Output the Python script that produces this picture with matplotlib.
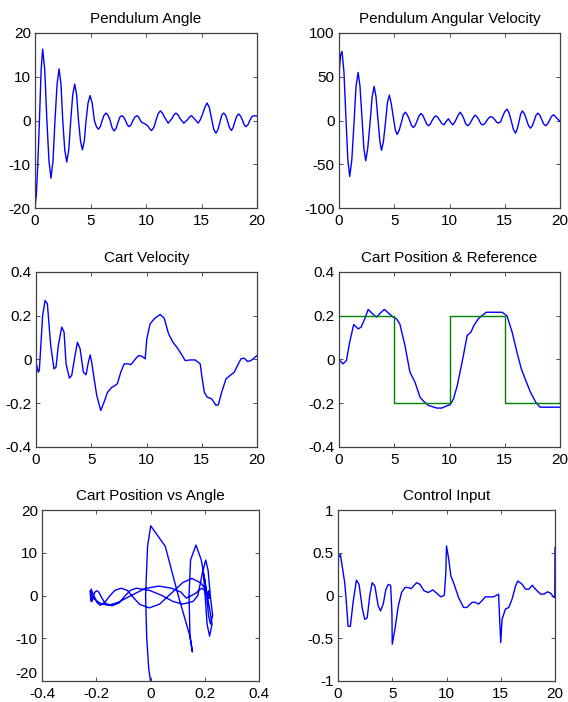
import numpy as np
import matplotlib
matplotlib.use('Agg')
import matplotlib.pyplot as plt

plt.rcParams['font.family'] = ['Liberation Sans', 'DejaVu Sans']

# Pendulum angle (deg), (time, value)
ang_pts = [(0, -20), (0.12, -17), (0.25, -10), (0.4, 0), (0.55, 11.5), (0.69, 16.3),
           (0.88, 11.5), (1.07, 0), (1.26, -9.3), (1.44, -13.2), (1.62, -9.3), (1.8, 0),
           (1.99, 8.3), (2.17, 11.8), (2.34, 8.3), (2.5, 0), (2.68, -6.7), (2.86, -9.5),
           (3.04, -6.7), (3.22, 0), (3.4, 5.9), (3.58, 8.3), (3.75, 5.9), (3.92, 0),
           (4.1, -4.7), (4.27, -6.7), (4.44, -4.7), (4.6, 0), (4.78, 4.0), (4.96, 5.7),
           (5.15, 4.0), (5.35, 0), (5.53, -1.4), (5.71, -2.0), (5.88, -1.4), (6.05, 0),
           (6.22, 1.2), (6.4, 1.7), (6.58, 1.2), (6.77, 0), (6.95, -1.7), (7.13, -2.4),
           (7.3, -1.8), (7.47, -0.5), (7.65, 0.8), (7.82, 1.1), (7.98, 0.8), (8.15, 0),
           (8.32, -1.0), (8.48, -1.4), (8.65, -1.0), (8.82, 0), (9.0, 0.8), (9.17, 1.1),
           (9.33, 0.8), (9.5, 0), (9.65, -0.5), (9.8, -0.6), (10.15, -1.2), (10.33, -1.9),
           (10.5, -2.3), (10.7, -1.6), (10.9, 0), (11.1, 1.6), (11.3, 2.2), (11.48, 1.7),
           (11.65, 0.8), (12.0, -0.6), (12.35, 0.5), (12.52, 1.3), (12.7, 1.7), (12.88, 1.3),
           (13.05, 0.5), (13.4, -0.6), (13.75, 0.2), (13.92, 0.8), (14.1, 1.1), (14.4, 0.3),
           (14.7, -0.6), (14.9, 0.2), (15.1, 1.5), (15.3, 3.0), (15.5, 4.0), (15.7, 3.0),
           (15.9, 0.5), (16.1, -2.0), (16.3, -2.9), (16.48, -2.1), (16.65, -0.5), (16.82, 1.2),
           (17.0, 1.7), (17.18, 1.2), (17.35, -0.2), (17.52, -1.6), (17.7, -2.3), (17.85, -1.6),
           (18.0, -0.3), (18.18, 1.0), (18.35, 1.5), (18.52, 1.0), (18.7, 0), (18.85, -1.0),
           (19.0, -1.4), (19.18, -1.0), (19.35, 0), (19.52, 0.8), (19.7, 1.1), (20.0, 1.0)]

# Pendulum angular velocity
av_pts = [(0, 35), (0.05, 62), (0.15, 75), (0.27, 79), (0.45, 55), (0.62, 5), (0.8, -45),
          (0.97, -64), (1.16, -45), (1.35, -5), (1.54, 39), (1.73, 55), (1.9, 39), (2.07, 5),
          (2.25, -32), (2.42, -46), (2.6, -32), (2.8, -4), (3.0, 27), (3.18, 39), (3.35, 27),
          (3.52, 2), (3.7, -24), (3.85, -34), (4.02, -24), (4.2, -3), (4.38, 20), (4.55, 29),
          (4.72, 20), (4.9, 5), (5.1, -11), (5.27, -16), (5.45, -11), (5.63, -3), (5.82, 6.5),
          (6.0, 9.5), (6.18, 6.5), (6.37, 1), (6.55, -5.5), (6.73, -8), (6.9, -5.5), (7.08, 0),
          (7.25, 5.5), (7.42, 8), (7.6, 5.5), (7.76, 1), (7.93, -4), (8.1, -6), (8.27, -4),
          (8.43, 0), (8.6, 3.7), (8.76, 5.3), (8.95, 3.5), (9.13, 0), (9.3, -3.5), (9.5, -5),
          (9.7, -1), (9.9, 2), (10.1, -2), (10.3, -5), (10.47, -2), (10.63, 2), (10.8, 6.5),
          (10.97, 9.5), (11.13, 6.5), (11.3, 2), (11.47, -4), (11.64, -6), (11.82, -4),
          (12.0, 0), (12.17, 4), (12.33, 6), (12.5, 4), (12.67, 0.5), (12.83, -3.5), (13.0, -5),
          (13.2, -3.5), (13.38, 0), (13.57, 3.2), (13.76, 4.6), (13.93, 3.2), (14.1, 1),
          (14.27, -2), (14.45, -3), (14.63, -1.5), (14.82, 5), (15.0, 10), (15.2, 13),
          (15.38, 9), (15.58, 0), (15.78, -10), (15.97, -14.5), (16.12, -10), (16.28, -2),
          (16.44, 7.5), (16.6, 11), (16.78, 7.5), (16.97, 1), (17.15, -6), (17.33, -8.8),
          (17.5, -6), (17.67, 0), (17.83, 6), (18.0, 8.4), (18.17, 6), (18.35, 1), (18.52, -4),
          (18.7, -6), (18.87, -4), (19.05, 0), (19.22, 4.5), (19.4, 6.5), (19.55, 5),
          (19.7, 3), (19.85, 1), (20.0, -1)]

# Cart velocity
vel_pts = [(0, -0.01), (0.2, -0.058), (0.3, -0.05), (0.36, 0.0), (0.6, 0.2), (0.82, 0.27),
           (1.03, 0.255), (1.33, 0.064), (1.63, -0.043), (1.81, -0.035), (2.02, 0.064),
           (2.33, 0.148), (2.54, 0.125), (2.72, -0.02), (3.02, -0.085), (3.23, -0.073),
           (3.53, 0.018), (3.75, 0.079), (3.99, 0.049), (4.29, -0.058), (4.53, -0.07),
           (4.74, -0.012), (4.9, 0.021), (5.04, -0.012), (5.26, -0.088), (5.5, -0.165),
           (5.86, -0.233), (6.16, -0.195), (6.47, -0.15), (6.86, -0.127), (7.16, -0.119),
           (7.37, -0.11), (7.67, -0.058), (7.98, -0.02), (8.37, -0.02), (8.58, -0.024),
           (8.88, -0.005), (9.27, 0.018), (9.58, 0.015), (9.88, 0.003), (10.03, 0.095),
           (10.33, 0.163), (10.7, 0.186), (11.24, 0.206), (11.6, 0.189), (12.0, 0.117),
           (12.39, 0.079), (12.75, 0.056), (13.2, 0.021), (13.5, -0.005), (13.96, -0.002),
           (14.4, -0.002), (14.86, -0.02), (15.0, -0.073), (15.23, -0.15), (15.5, -0.172),
           (15.9, -0.18), (16.3, -0.21), (16.5, -0.207), (16.8, -0.15), (17.2, -0.088),
           (17.64, -0.07), (17.94, -0.058), (18.24, -0.027), (18.55, 0.003), (18.85, 0.006),
           (19.15, -0.009), (19.45, -0.005), (20.0, 0.018)]

# Cart position and reference
pos_pts = [(0, 0), (0.36, -0.02), (0.67, -0.005), (0.97, 0.08), (1.33, 0.16), (1.73, 0.14),
           (2.0, 0.148), (2.33, 0.186), (2.64, 0.229), (3.03, 0.209), (3.4, 0.194), (3.7, 0.21),
           (4.1, 0.229), (4.55, 0.209), (4.9, 0.194), (5.2, 0.186), (5.5, 0.163), (5.97, 0.064),
           (6.42, -0.058), (6.88, -0.104), (7.33, -0.172), (7.64, -0.19), (8.1, -0.21),
           (8.85, -0.222), (9.3, -0.222), (9.7, -0.213), (10.06, -0.207), (10.36, -0.18),
           (10.7, -0.12), (11.2, 0.003), (11.6, 0.11), (11.94, 0.125), (12.2, 0.155),
           (12.6, 0.186), (12.94, 0.2), (13.33, 0.216), (14.76, 0.216), (15.2, 0.2),
           (15.67, 0.125), (16.1, 0.034), (16.5, -0.043), (16.9, -0.096), (17.33, -0.15),
           (17.8, -0.195), (18.2, -0.218), (20.0, -0.218)]
ref_t = [0, 5, 5, 10, 10, 15, 15, 20, 20]
ref = [0.2, 0.2, -0.2, -0.2, 0.2, 0.2, -0.2, -0.2, 0.2]

# Control input
u_pts = [(0, 0.15), (0.05, 0.45), (0.22, 0.48), (0.62, 0.15), (0.77, -0.08), (0.93, -0.36),
         (1.14, -0.36), (1.39, -0.08), (1.7, 0.18), (1.94, 0.13), (2.25, -0.16), (2.47, -0.28),
         (2.69, -0.26), (2.93, 0.0), (3.15, 0.15), (3.4, 0.11), (3.7, -0.12), (3.92, -0.18),
         (4.17, -0.1), (4.41, 0.07), (4.63, 0.13), (4.85, 0.12), (4.97, -0.2), (5.0, -0.57),
         (5.25, -0.39), (5.56, -0.12), (5.86, 0.035), (6.17, 0.094), (6.48, 0.094),
         (6.73, 0.08), (7.25, 0.15), (7.56, 0.13), (7.93, 0.055), (8.33, 0.035), (8.73, 0.066),
         (9.1, 0.027), (9.48, -0.016), (9.8, 0.004), (9.94, 0.27), (10.0, 0.58), (10.2, 0.43),
         (10.4, 0.23), (10.65, 0.15), (11.1, -0.02), (11.57, -0.14), (11.88, -0.14),
         (12.35, -0.08), (12.65, -0.08), (12.96, -0.1), (13.27, -0.06), (13.58, -0.016),
         (14.35, -0.016), (14.8, 0.016), (14.9, -0.28), (15.0, -0.55), (15.12, -0.28),
         (15.43, -0.16), (15.74, -0.14), (16.05, -0.04), (16.36, 0.11), (16.57, 0.17),
         (16.98, 0.13), (17.28, 0.074), (17.6, 0.074), (17.9, 0.12), (18.2, 0.074),
         (18.67, 0.016), (18.98, 0.016), (19.3, 0.043), (19.6, 0.027), (19.9, -0.023),
         (19.98, -0.02), (20.0, 0.56)]

ang_t, ang = zip(*ang_pts)
av_t, av = zip(*av_pts)
vel_t, vel = zip(*vel_pts)
pos_t, pos = zip(*pos_pts)
u_t, u = zip(*u_pts)

# cart position taken at the angle sample times, for the phase plot
pos_at_ang = np.interp(ang_t, pos_t, pos)

blue = '#0000ff'
green = '#008000'

fig = plt.figure(figsize=(5.68, 7.02), dpi=100)
W, H = 568, 702


def make_ax(l, t, r, b):
    ax = fig.add_axes([l / W, 1 - b / H, (r - l) / W, (b - t) / H])
    ax.tick_params(direction='in', length=3, width=0.6, top=True, right=True,
                   labelsize=11, color='#333333')
    ax.tick_params(axis='x', pad=4)
    ax.tick_params(axis='y', pad=3)
    for s in ax.spines.values():
        s.set_color('#404040')
        s.set_linewidth(0.9)
    return ax


def set_ticks(ax, xt, yt):
    ax.set_xticks(xt)
    ax.set_xticklabels(['%g' % v for v in xt])
    ax.set_yticks(yt)
    ax.set_yticklabels(['%g' % v for v in yt])
    ax.set_xlim(xt[0], xt[-1])
    ax.set_ylim(yt[0], yt[-1])


tx = [0, 5, 10, 15, 20]
lw = 1.0
tfs = 11

ax1 = make_ax(35, 33, 257, 208)
ax1.plot(ang_t, ang, color=blue, lw=lw)
set_ticks(ax1, tx, [-20, -10, 0, 10, 20])
ax1.set_title('Pendulum Angle', fontsize=tfs, pad=7)

ax2 = make_ax(339, 33, 560, 208)
ax2.plot(av_t, av, color=blue, lw=lw)
set_ticks(ax2, tx, [-100, -50, 0, 50, 100])
ax2.set_title('Pendulum Angular Velocity', fontsize=tfs, pad=7)

ax3 = make_ax(36, 272, 257, 447)
ax3.plot(vel_t, vel, color=blue, lw=lw)
set_ticks(ax3, tx, [-0.4, -0.2, 0, 0.2, 0.4])
ax3.set_title('Cart Velocity', fontsize=tfs, pad=7)

ax4 = make_ax(339, 272, 560, 447)
ax4.plot(pos_t, pos, color=blue, lw=lw)
ax4.plot(ref_t, ref, color=green, lw=lw)
set_ticks(ax4, tx, [-0.4, -0.2, 0, 0.2, 0.4])
ax4.set_title('Cart Position & Reference', fontsize=tfs, pad=7)

ax5 = make_ax(42, 510, 259, 681)
ax5.plot(pos_at_ang, ang, color=blue, lw=lw)
set_ticks(ax5, [-0.4, -0.2, 0, 0.2, 0.4], [-20, -10, 0, 10, 20])
ax5.set_title('Cart Position vs Angle', fontsize=tfs, pad=7)
# nudge the bottom y label up a little so it clears the x label below it
ax5.get_yticklabels()[0].set_verticalalignment('bottom')

ax6 = make_ax(338, 510, 555, 681)
ax6.plot(u_t, u, color=blue, lw=lw)
set_ticks(ax6, tx, [-1, -0.5, 0, 0.5, 1])
ax6.set_title('Control Input', fontsize=tfs, pad=7)

fig.savefig('out.png', dpi=100, facecolor='white')
